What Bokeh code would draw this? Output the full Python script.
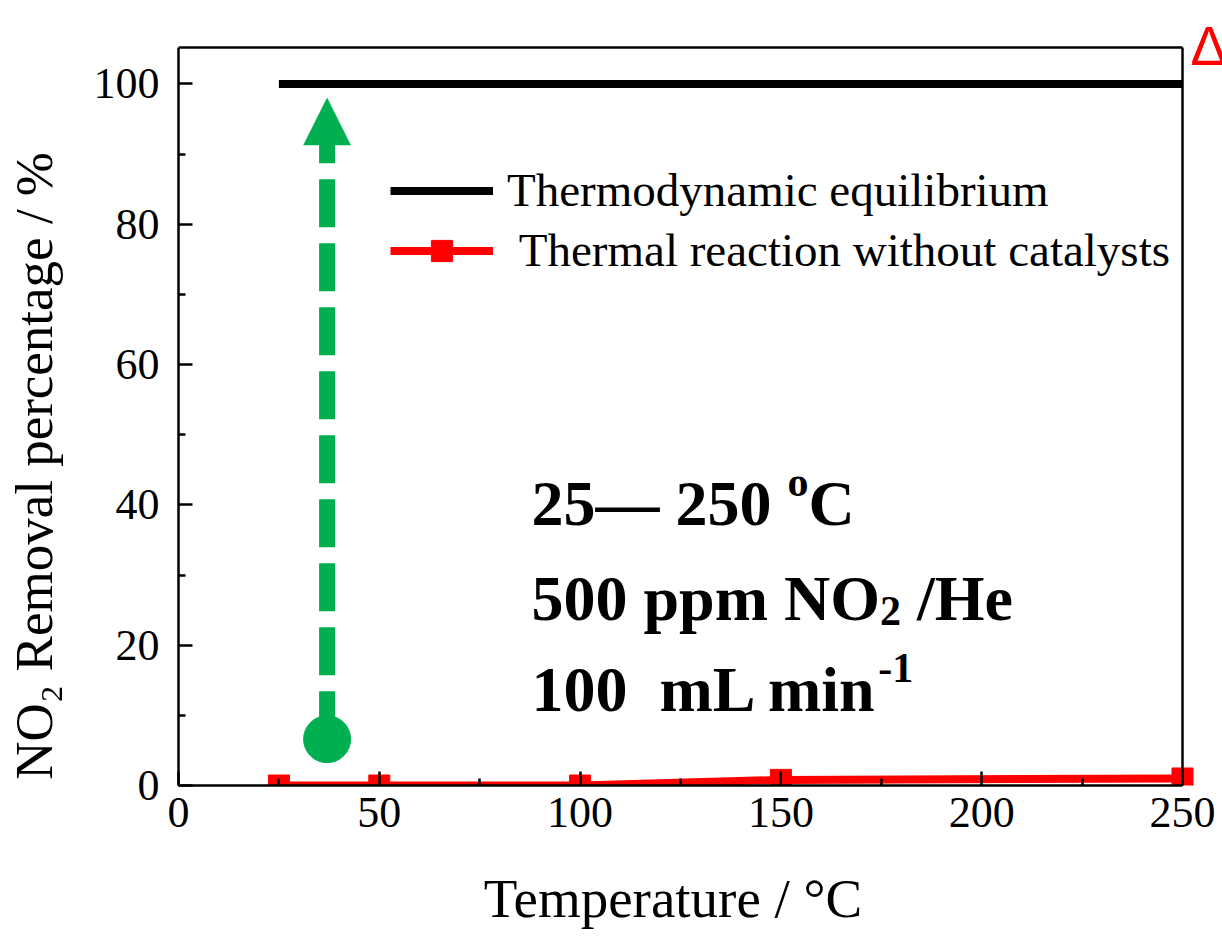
from bokeh.embed import file_html
from bokeh.models import (Arrow, FixedTicker, Label, Legend, LegendItem,
                          LinearAxis, NormalHead, Range1d)
from bokeh.plotting import figure
from bokeh.resources import INLINE

# ---- data -------------------------------------------------------------
thermal_temps = [25, 50, 100, 150, 250]          # deg C
thermal_removal = [0.0, 0.0, 0.0, 0.8, 1.0]      # % NO2 removed, no catalyst
equilibrium_temps = [25, 250]
equilibrium_removal = [100, 100]                 # % at thermodynamic equilibrium

x_ticks = [0, 50, 100, 150, 200, 250]
y_ticks = [0, 20, 40, 60, 80, 100]

X_MAX = 250        # right edge of the boxed plot area
Y_MAX = 105.2      # top edge of the boxed plot area

# gap between thermal-only conversion and equilibrium, shown as an arrow
gap_temp = 37
gap_from = 6.6
gap_to = 98

GREEN = "#00B050"
SERIF = "Liberation Serif"

W, H = 1222, 939
LEFT, BOTTOM = 178, 154
BOX_W, BOX_H = 1004, 738          # pixel size of the boxed area

# the frame runs to the top/right page edges so the corner symbol is not
# clipped; the visible box is drawn with bounded axes
x_end = X_MAX * (W - LEFT) / BOX_W
y_end = Y_MAX * (H - BOTTOM) / BOX_H

p = figure(width=W, height=H,
           x_range=Range1d(0, x_end), y_range=Range1d(0, y_end),
           output_backend="svg", toolbar_location=None,
           min_border_left=LEFT, min_border_right=0,
           min_border_top=0, min_border_bottom=BOTTOM,
           background_fill_color="white", border_fill_color="white")

p.grid.visible = False
p.outline_line_color = None

xax = p.below[0]
yax = p.left[0]


def midpoints(ticks):
    return [(a + b) / 2 for a, b in zip(ticks[:-1], ticks[1:])]


xax.ticker = FixedTicker(ticks=x_ticks, minor_ticks=midpoints(x_ticks))
yax.ticker = FixedTicker(ticks=y_ticks, minor_ticks=midpoints(y_ticks))
xax.bounds = (0, X_MAX)
yax.bounds = (0, Y_MAX)

# closing edges of the box: bare axes at fixed positions
right_edge = LinearAxis(fixed_location=X_MAX, bounds=(0, Y_MAX),
                        ticker=FixedTicker(ticks=[]))
top_edge = LinearAxis(fixed_location=Y_MAX, bounds=(0, X_MAX),
                      ticker=FixedTicker(ticks=[]))
p.add_layout(right_edge, "right")
p.add_layout(top_edge, "above")

for ax in (xax, yax, right_edge, top_edge):
    ax.axis_line_width = 2.5
    ax.axis_line_color = "black"
    ax.major_tick_line_width = 2.5
    ax.minor_tick_line_width = 2.5
    ax.major_tick_line_color = "black"
    ax.minor_tick_line_color = "black"
    ax.major_tick_in = 14
    ax.major_tick_out = 0
    ax.minor_tick_in = 7
    ax.minor_tick_out = 0
    ax.major_label_text_font = SERIF
    ax.major_label_text_font_size = "44px"
    ax.major_label_text_color = "black"
    ax.axis_label_text_font = SERIF
    ax.axis_label_text_font_style = "normal"
    ax.axis_label_text_color = "black"

xax.major_label_standoff = 12
yax.major_label_standoff = 19

# trailing no-break spaces shift the titles along their axes
xax.axis_label = "Temperature / \u00b0C" + "\u00a0" * 4
xax.axis_label_text_font_size = "55px"
xax.axis_label_standoff = 38

yax.axis_label = "NO\u2082 Removal percentage / %" + "\u00a0" * 11
yax.axis_label_text_font_size = "53px"
yax.axis_label_standoff = 28

# ---- series -----------------------------------------------------------
eq_line = p.line(equilibrium_temps, equilibrium_removal,
                 line_color="black", line_width=8)
th_line = p.line(thermal_temps, thermal_removal,
                 line_color="red", line_width=8)
th_pts = p.scatter(thermal_temps, thermal_removal, marker="square",
                   size=21, color="red")

# green dashed arrow from the uncatalysed level up to equilibrium
p.scatter([gap_temp], [gap_from], size=47, color=GREEN)
p.add_layout(Arrow(end=NormalHead(size=47, fill_color=GREEN,
                                  line_color=GREEN, line_width=0.5),
                   x_start=gap_temp, y_start=gap_from,
                   x_end=gap_temp, y_end=gap_to,
                   line_color=GREEN, line_width=16, line_dash="48 16"))

legend = Legend(items=[
    LegendItem(label="Thermodynamic equilibrium", renderers=[eq_line]),
    LegendItem(label="\u00a0Thermal reaction without catalysts",
               renderers=[th_line, th_pts]),
], location=(212, 508))
legend.border_line_alpha = 0
legend.background_fill_alpha = 0
legend.padding = 0
legend.margin = 0
legend.spacing = 6
legend.glyph_width = 103
legend.glyph_height = 53
legend.label_height = 53
legend.label_standoff = 14
legend.label_text_font = SERIF
legend.label_text_font_size = "47px"
legend.label_text_color = "black"
p.add_layout(legend)


def fx(px):
    return px - LEFT


def fy(py):
    return (H - BOTTOM) - py


# heating symbol beside the top-right corner
p.add_layout(Label(x=fx(1190), y=fy(45), x_units="screen", y_units="screen",
                   text="\u0394", text_font="Liberation Sans",
                   text_font_size="55px", text_color="red",
                   text_baseline="alphabetic"))

# ---- text runs with sub/superscripts ---------------------------------
TIMES_BOLD = {"0": 500, "1": 500, "2": 500, "5": 500, " ": 250, "\u00a0": 250,
              "\u2014": 1000, "o": 500, "C": 722, "p": 556, "m": 833,
              "N": 722, "O": 778, "/": 278, "H": 778, "e": 444, "L": 667,
              "i": 278, "n": 556, "-": 333}


def text_run(parts, x0, y0):
    """parts: (text, font px, baseline shift px upward)."""
    adv = 0.0
    for txt, size, shift in parts:
        p.add_layout(Label(x=x0 + adv, y=y0 + shift,
                           x_units="screen", y_units="screen",
                           text=txt, text_font=SERIF,
                           text_font_size=f"{size}px",
                           text_font_style="bold", text_color="black",
                           text_align="left", text_baseline="alphabetic"))
        adv += sum(TIMES_BOLD.get(c, 500) for c in txt) / 1000 * size


# conditions block
text_run([("25\u2014 250 ", 64, 0), ("o", 42, 22), ("C", 64, 0)],
         fx(531), fy(503))
text_run([("500 ppm NO", 64, 0), ("2", 42, -12), ("\u00a0/He", 64, 0)],
         fx(531), fy(598))
text_run([("100\u00a0 mL min", 64, 0), ("-1", 42, 22)],
         fx(531), fy(689))

open("out.html", "w").write(file_html(p, INLINE))
